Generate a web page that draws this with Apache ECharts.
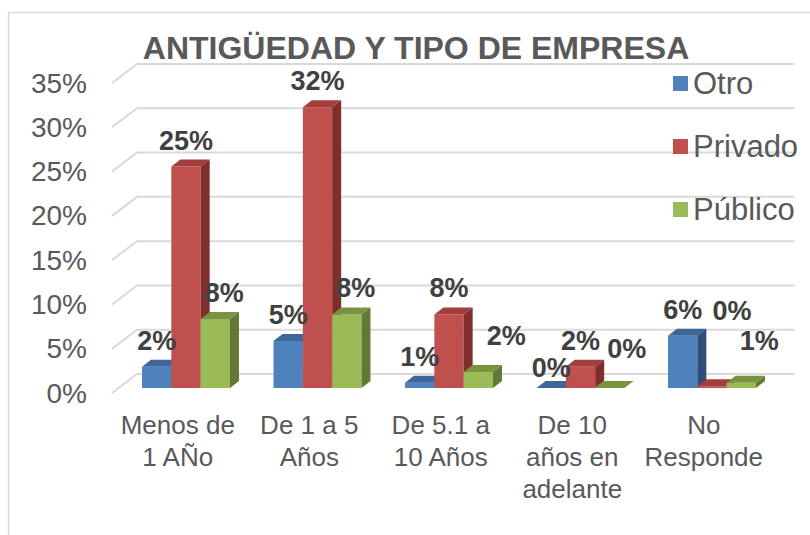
<!DOCTYPE html>
<html>
<head>
<meta charset="utf-8">
<script src="https://cdn.jsdelivr.net/npm/echarts@6/dist/echarts.min.js"></script>
<style>html,body{margin:0;padding:0;background:#fff;}#c{width:810px;height:535px;}</style>
</head>
<body>
<div id="c"></div>
<script>
const categories = ['Menos de\n1 AÑo', 'De 1 a 5\nAños', 'De 5.1 a\n10 Años', 'De 10\naños en\nadelante', 'No\nResponde'];
const seriesNames = ['Otro', 'Privado', 'Público'];
const otro = [2.4, 5.3, 0.6, 0, 5.9];
const privado = [25.0, 31.7, 8.3, 2.4, 0.2];
const publico = [7.8, 8.3, 1.8, 0, 0.6];
const yTicks = [0, 5, 10, 15, 20, 25, 30, 35];
const titleText = 'ANTIGÜEDAD Y TIPO DE EMPRESA';

const FONT = 'Arial, "Liberation Sans", sans-serif';
const palette = [
  ['#4F81BD', '#3D6699', '#2E4E78'],
  ['#C0504D', '#A33E3C', '#7F2E2C'],
  ['#9BBB59', '#79933F', '#627833']
];
// label nudges (series index -> category index -> [dx, dy]) to mimic Excel's overlap avoidance
const labelAdjust = {
  '0-3': [0, 6],
  '1-4': [20, -49],
  '2-0': [9, 0], '2-1': [9, 0], '2-2': [28, -10], '2-3': [17, -13], '2-4': [18, -16]
};

function barRenderer(sIdx) {
  return function (params, api) {
    const cat = api.value(0), v = api.value(1);
    const top = api.coord([cat, v]);
    const base = api.coord([cat, 0]);
    const band = api.size([1, 0])[0];
    const w = band * 0.223;
    const x = top[0] + (sIdx - 1) * w - w / 2;
    const yT = top[1], yB = base[1];
    const d = 9, e = 7;
    const c = palette[sIdx];
    const adj = labelAdjust[sIdx + '-' + params.dataIndex] || [0, 0];
    return {
      type: 'group',
      children: [
        { type: 'rect', shape: { x: x, y: yT, width: w, height: Math.max(yB - yT, 0) }, style: { fill: c[0] } },
        { type: 'polygon', shape: { points: [[x, yT], [x + d, yT - e], [x + w + d, yT - e], [x + w, yT]] }, style: { fill: c[1] } },
        { type: 'polygon', shape: { points: [[x + w, yT], [x + w + d, yT - e], [x + w + d, yB - e], [x + w, yB]] }, style: { fill: c[2] } },
        { type: 'text', z2: 50, style: { text: Math.round(v) + '%', x: x + w / 2 + adj[0], y: yT - 26 + adj[1], align: 'center', verticalAlign: 'middle', fill: '#404040', font: 'bold 27px ' + FONT } }
      ]
    };
  };
}

function wallRenderer(params, api) {
  const v = api.value(0);
  const cs = params.coordSys;
  const y = api.coord([0, v])[1];
  const dx = 25, dy = 19;
  return {
    type: 'polyline',
    shape: { points: [[cs.x, y], [cs.x + dx, y - dy], [cs.x + cs.width + dx, y - dy]] },
    style: { stroke: '#D9D9D9', lineWidth: 2, fill: null }
  };
}

const chart = echarts.init(document.getElementById('c'), null, { renderer: 'svg' });
const seriesData = [otro, privado, publico];
chart.setOption({
  animation: false,
  backgroundColor: '#fff',
  title: {
    text: titleText, left: 416, top: 33, padding: 0, textAlign: 'center',
    textStyle: { fontFamily: FONT, fontSize: 32, fontWeight: 'bold', color: '#595959', lineHeight: 30 }
  },
  legend: {
    orient: 'vertical', left: 668, top: 63, itemWidth: 15, itemHeight: 15, itemGap: 32, icon: 'rect',
    data: seriesNames,
    textStyle: { fontFamily: FONT, fontSize: 31, color: '#595959', lineHeight: 30 }
  },
  graphic: [{
    type: 'rect', left: 6, top: 10, shape: { width: 840, height: 560 },
    style: { fill: null, stroke: '#D9D9D9', lineWidth: 1.5 }, silent: true
  }],
  grid: [
    { left: 120.25, width: 657.5, top: 78, bottom: 147 },
    { left: 112, width: 657.5, top: 83, bottom: 142 }
  ],
  xAxis: [
    { type: 'category', gridIndex: 0, data: categories, show: false },
    { type: 'category', gridIndex: 1, data: categories,
      axisLine: { show: false }, axisTick: { show: false },
      axisLabel: { interval: 0, margin: 16, fontFamily: FONT, fontSize: 26, lineHeight: 32, color: '#595959' } }
  ],
  yAxis: [
    { type: 'value', gridIndex: 0, min: 0, max: 35, interval: 5, show: false },
    { type: 'value', gridIndex: 1, min: 0, max: 35, interval: 5,
      splitLine: { show: false }, axisLine: { show: false }, axisTick: { show: false },
      axisLabel: { margin: 25, fontFamily: FONT, fontSize: 28, color: '#595959', formatter: '{value}%' } }
  ],
  series: [
    { type: 'custom', name: 'wall', xAxisIndex: 1, yAxisIndex: 1, z: 1, silent: true,
      data: yTicks.map(v => [v]), encode: { y: 0 }, renderItem: wallRenderer }
  ].concat(seriesNames.map((n, i) => ({
    type: 'custom', name: n, xAxisIndex: 0, yAxisIndex: 0, z: 2,
    itemStyle: { color: palette[i][0] },
    data: seriesData[i].map((v, k) => [k, v]),
    encode: { x: 0, y: 1 },
    renderItem: barRenderer(i)
  })))
});
</script>
</body>
</html>
